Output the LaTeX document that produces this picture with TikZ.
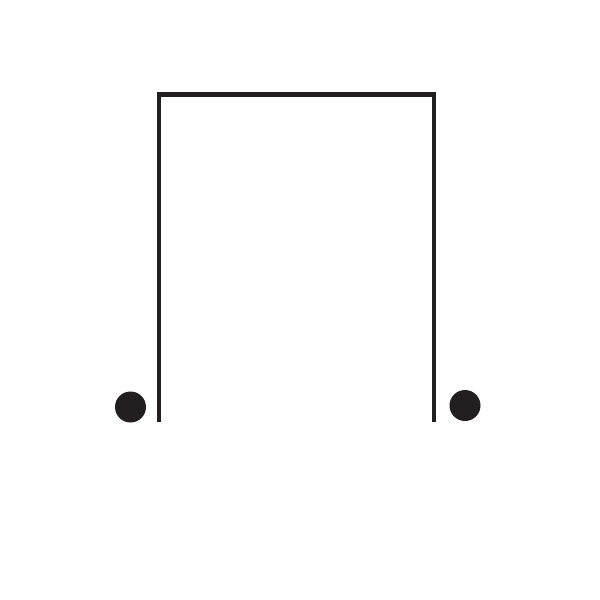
\documentclass[tikz,border=0pt]{standalone}
\definecolor{ink}{HTML}{231F20}
\begin{document}
\begin{tikzpicture}[x=1pt,y=-1pt,
  wire/.style={draw=ink,line width=4.2pt,line cap=butt,line join=miter},
  dot/.style={circle,fill=ink,minimum size=31pt,inner sep=0pt}]
\useasboundingbox (0,0) rectangle (600,600);
\coordinate (lb) at (159,422);
\coordinate (lt) at (159,94.5);
\coordinate (rt) at (434,94.5);
\coordinate (rb) at (434,422);
\draw[wire] (lb) -- (lt) -- (rt) -- (rb);
\node[dot] (d1) at (130.5,407) {};
\node[dot] (d2) at (465,405.5) {};
\end{tikzpicture}
\end{document}
